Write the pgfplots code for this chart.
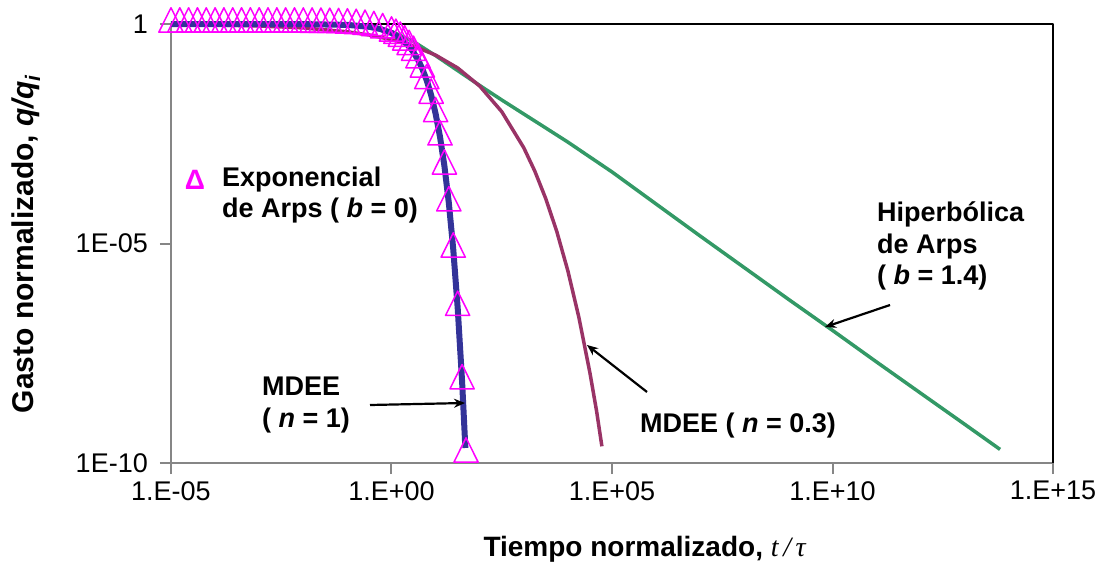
\documentclass[border=0pt]{standalone}
\usepackage{fontspec}
\setmainfont{Liberation Sans}
\newfontfamily\seriffont{Liberation Serif}
\usepackage{pgfplots}
\pgfplotsset{compat=1.18}
\usetikzlibrary{arrows.meta}

\definecolor{exptri}{RGB}{255,0,255}
\definecolor{mdeeone}{RGB}{51,51,153}
\definecolor{mdeethree}{RGB}{153,51,102}
\definecolor{hypgreen}{RGB}{51,153,102}
\definecolor{axgray}{RGB}{134,134,134}

\newcommand{\lbl}{\fontsize{27}{32}\selectfont\bfseries}

\begin{document}
\begin{tikzpicture}
\begin{axis}[
  scale only axis, width=882pt, height=439pt,
  xmode=log, ymode=log,
  xmin=1e-5, xmax=1e15, ymin=1e-10, ymax=1,
  clip=false,
  axis x line*=bottom, axis y line*=left,
  axis line style={axgray, line width=2.5pt},
  xtick={1e-5,1,1e5,1e10,1e15},
  xticklabels={1.E-05,1.E+00,1.E+05,1.E+10,1.E+15},
  ytick={1e-10,1e-5,1},
  yticklabels={1E-10,1E-05,1},
  minor xtick={}, minor ytick={},
  tick align=outside, major tick length=11pt,
  major tick style={axgray, line width=2pt},
  tick label style={font=\fontsize{27}{32}\selectfont, inner sep=0pt},
  xticklabel style={yshift=-7pt},
  yticklabel style={xshift=-12pt},
  xlabel={\fontsize{28}{33}\selectfont\bfseries Tiempo normalizado, {\seriffont\itshape\mdseries t\,/\,τ}},
  xlabel style={at={(axis description cs:0.537,-0.197)}, anchor=center},
  ylabel={\fontsize{30}{36}\selectfont\bfseries Gasto normalizado, \textit{q/q}\textsubscript{\textit{i}}},
  ylabel style={at={(axis description cs:-0.1644,0.499)}, anchor=center},
  line join=round,
]
\draw[black, line width=2.5pt] (rel axis cs:0,1) -- (rel axis cs:1,1) -- (rel axis cs:1,0);

% Hiperbolica de Arps (b = 1.4)
\addplot[hypgreen, line width=3.5pt] coordinates {
  (1e-5,1) (1e-3,0.9977) (1e-2,0.9886) (0.1,0.933) (0.316,0.832)
  (1,0.676) (3.16,0.398) (10,0.1905) (31.6,0.0871) (100,0.0398)
  (316,0.01862) (1000,8.91e-3) (3162,4.27e-3) (1e4,2.04e-3)
  (3.16e4,9.33e-4) (1e5,4.27e-4) (1e6,7.94e-5) (1e7,1.48e-5)
  (1e8,2.82e-6) (1e9,5.37e-7) (1e10,1.05e-7) (1e11,2.00e-8)
  (1e12,3.89e-9) (1e13,7.59e-10) (6.31e13,2.04e-10)
};

% MDEE (n = 0.3)
\addplot[mdeethree, line width=3.5pt] coordinates {
  (1e-5,0.9745) (1e-4,0.9497) (1e-3,0.9022) (1e-2,0.8144) (0.1,0.6638)
  (0.316,0.5606) (1,0.4416) (3.16,0.3152) (10,0.1957) (31.6,0.09988)
  (100,0.03862) (316,0.01009) (1000,1.515e-3) (1778,4.45e-4)
  (3162,1.04e-4) (5623,1.85e-5) (1e4,2.37e-6) (1.778e4,2.06e-7)
  (3.16e4,1.13e-8) (4.47e4,1.53e-9) (5.9e4,2.4e-10)
};

% MDEE (n = 1)
\addplot[mdeeone, line width=6pt] coordinates {
  (1e-5,1) (0.01,0.9953) (0.1,0.9541) (0.316,0.8620) (0.562,0.7677)
  (1,0.6250) (1.585,0.4748) (2.512,0.3071) (3.162,0.2261) (3.981,0.1540)
  (5.012,0.09478) (6.310,0.05155) (7.943,0.02393) (10,9.095e-3)
  (12.59,2.69e-3) (15.85,5.83e-4) (19.95,8.47e-5) (25.12,7.47e-6)
  (31.62,3.51e-7) (39.81,7.49e-9) (47.32,2.2e-10)
};

% Exponencial de Arps (b = 0)
\addplot[only marks, mark=triangle, mark size=14pt,
  mark options={exptri, line width=1.5pt, yscale=1.16, fill=none}] coordinates {
  (1e-5,1) (1.585e-5,1) (2.512e-5,1) (3.981e-5,1) (6.310e-5,1)
  (1e-4,1) (1.585e-4,1) (2.512e-4,1) (3.981e-4,1) (6.310e-4,1)
  (1e-3,1) (1.585e-3,0.9993) (2.512e-3,0.9988) (3.981e-3,0.9981) (6.310e-3,0.9970)
  (0.01,0.9953) (0.01585,0.9926) (0.02512,0.9883) (0.03981,0.9815) (0.06310,0.9708)
  (0.1,0.9541) (0.1585,0.9282) (0.2512,0.8886) (0.3981,0.8294) (0.6310,0.7433)
  (1,0.6250) (1.259,0.5534) (1.585,0.4748) (1.995,0.3915) (2.512,0.3071)
  (3.162,0.2261) (3.981,0.1540) (5.012,0.09478) (6.310,0.05155) (7.943,0.02393)
  (10,9.095e-3) (12.59,2.69e-3) (15.85,5.83e-4) (19.95,8.47e-5) (25.12,7.47e-6)
  (31.62,3.51e-7) (39.81,7.49e-9) (48.98,1.6e-10)
};
\end{axis}

\node[anchor=center, text=exptri, font=\fontsize{28}{32}\selectfont\bfseries, inner sep=0pt] at (24pt,283pt) {Δ};
\node[anchor=base west, inner sep=0pt, font=\lbl] at (51pt,276pt) {Exponencial};
\node[anchor=base west, inner sep=0pt, font=\lbl] at (51pt,245pt) {de Arps ( \textit{b} = 0)};
\node[anchor=base west, inner sep=0pt, font=\lbl] at (91pt,68pt) {MDEE};
\node[anchor=base west, inner sep=0pt, font=\lbl] at (91pt,36pt) {( \textit{n} = 1)};
\node[anchor=base west, inner sep=0pt, font=\lbl] at (469pt,31pt) {MDEE ( \textit{n} = 0.3)};
\node[anchor=base west, inner sep=0pt, font=\lbl] at (706pt,242pt) {Hiperbólica};
\node[anchor=base west, inner sep=0pt, font=\lbl] at (706pt,210pt) {de Arps};
\node[anchor=base west, inner sep=0pt, font=\lbl] at (706pt,179pt) {( \textit{b} = 1.4)};

\draw[-{Stealth[length=11pt,width=9pt]}, line width=2.2pt] (199pt,58pt) -- (294pt,60pt);
\draw[-{Stealth[length=11pt,width=9pt]}, line width=2.2pt] (476pt,71pt) -- (416pt,118pt);
\draw[-{Stealth[length=11pt,width=9pt]}, line width=2.2pt] (719pt,158pt) -- (654pt,136pt);

\pgfresetboundingbox
\path[use as bounding box] (-171pt,-100pt) rectangle (934pt,463pt);
\end{tikzpicture}
\end{document}
